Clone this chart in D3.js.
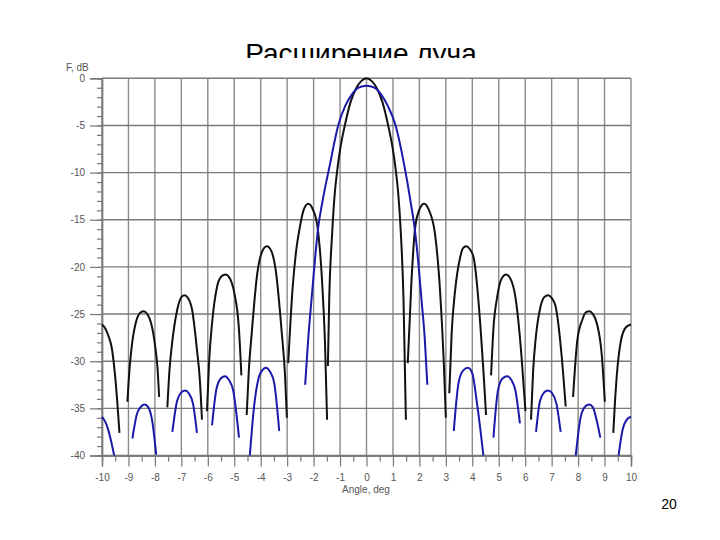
<!DOCTYPE html>
<html>
<head>
<meta charset="utf-8">
<script src="https://cdn.jsdelivr.net/npm/d3@7"></script>
<style>
  body { margin: 0; background: #fff; }
  svg { display: block; font-family: Arial, "Liberation Sans", sans-serif; }
</style>
</head>
<body>
<div id="chart"></div>
<script>
// lobes of the narrow beam (black), [angle deg, F dB]
var blackLobes = [
  [[-10,-26.1],[-9.88,-26.5],[-9.76,-27.3],[-9.63,-28.6],[-9.51,-31.4],[-9.42,-34.4],[-9.34,-37.6]],
  [[-9.04,-34.3],[-8.95,-30.5],[-8.87,-28.3],[-8.71,-25.8],[-8.57,-24.9],[-8.43,-24.7],[-8.29,-25.0],[-8.15,-25.9],[-7.99,-28.4],[-7.9,-30.8],[-7.84,-33.8]],
  [[-7.53,-34.9],[-7.45,-31],[-7.35,-28.1],[-7.16,-24.6],[-7.02,-23.3],[-6.89,-23.0],[-6.75,-23.3],[-6.59,-24.6],[-6.41,-28.8],[-6.3,-32],[-6.22,-36.2]],
  [[-6.03,-35.3],[-5.95,-30],[-5.84,-26.0],[-5.65,-22.1],[-5.48,-21.0],[-5.33,-20.8],[-5.17,-21.2],[-5.01,-22.6],[-4.82,-26.7],[-4.73,-31.5]],
  [[-4.53,-35.7],[-4.45,-31],[-4.35,-27.4],[-4.13,-20.7],[-3.95,-18.4],[-3.77,-17.8],[-3.6,-18.3],[-3.43,-20.4],[-3.2,-27.1],[-3.08,-31.5],[-3.01,-36.0]],
  [[-2.96,-30.2],[-2.8,-22.5],[-2.66,-18.3],[-2.54,-16.1],[-2.37,-13.9],[-2.2,-13.3],[-2.03,-13.9],[-1.85,-15.8],[-1.66,-22.5],[-1.57,-28],[-1.49,-36.2]],
  [[-1.46,-30.5],[-1.41,-23.5],[-1.3,-16.5],[-1.2,-12.2],[-1.1,-9.6],[-1.0,-7.6],[-0.82,-5.0],[-0.6,-2.5],[-0.4,-1.1],[-0.2,-0.3],[0,0],[0.2,-0.3],[0.4,-1.1],[0.6,-2.5],[0.82,-5.0],[1.0,-7.6],[1.1,-9.6],[1.2,-12.2],[1.3,-16.5],[1.4,-23.5],[1.49,-36.2]],
  [[1.56,-30.2],[1.7,-21.5],[1.84,-15.8],[2.02,-13.8],[2.18,-13.3],[2.35,-13.9],[2.59,-16.5],[2.78,-22.5],[2.92,-30],[3.0,-36.0]],
  [[3.13,-33.4],[3.22,-27],[3.35,-22.5],[3.54,-19.0],[3.65,-18.0],[3.77,-17.8],[3.9,-18.1],[4.05,-19.0],[4.3,-26.0],[4.42,-31],[4.52,-35.7]],
  [[4.71,-31.5],[4.8,-26.5],[4.94,-23.2],[5.1,-21.3],[5.28,-20.8],[5.45,-21.3],[5.63,-23.2],[5.86,-29.5],[5.95,-33],[6.01,-35.3]],
  [[6.22,-36.2],[6.3,-31],[6.39,-27.8],[6.58,-24.2],[6.72,-23.2],[6.86,-23.0],[7.0,-23.3],[7.15,-24.2],[7.38,-29.5],[7.53,-34.8]],
  [[7.81,-33.8],[7.97,-27.8],[8.16,-25.6],[8.3,-24.8],[8.42,-24.7],[8.56,-25.0],[8.71,-26.0],[8.9,-29.5],[9.01,-34.3]],
  [[9.33,-37.6],[9.4,-34],[9.46,-31.6],[9.62,-27.8],[9.81,-26.4],[10,-26.1]]
];

// lobes of the widened beam (blue)
var blueLobes = [
  [[-10,-35.9],[-9.9,-36.3],[-9.82,-36.8],[-9.67,-38.3],[-9.54,-40]],
  [[-8.85,-38.2],[-8.68,-35.6],[-8.52,-34.8],[-8.39,-34.6],[-8.25,-34.9],[-8.11,-36.2],[-7.95,-39.9]],
  [[-7.34,-37.5],[-7.16,-34.2],[-7.0,-33.3],[-6.86,-33.1],[-6.72,-33.4],[-6.56,-34.5],[-6.41,-37.6]],
  [[-5.84,-36.8],[-5.67,-32.9],[-5.5,-31.8],[-5.35,-31.6],[-5.2,-32.0],[-5.04,-33.1],[-4.82,-38.1]],
  [[-4.41,-40],[-4.25,-34.8],[-4.06,-31.6],[-3.92,-30.9],[-3.81,-30.7],[-3.65,-31.1],[-3.49,-32.3],[-3.30,-37.4]],
  [[-2.32,-32.5],[-2.2,-27.5],[-2.08,-23.5],[-1.95,-19.3],[-1.83,-15.9],[-1.68,-13.3],[-1.38,-9.1],[-1.07,-5.0],[-0.8,-2.9],[-0.55,-1.7],[-0.3,-1.0],[0,-0.78],[0.3,-1.0],[0.55,-1.7],[0.8,-2.9],[1.1,-5.0],[1.42,-9.1],[1.68,-13.3],[1.82,-15.9],[1.95,-19.3],[2.08,-23.5],[2.2,-27.5],[2.3,-32.5]],
  [[3.30,-37.4],[3.48,-32.3],[3.65,-31.0],[3.84,-30.7],[4.0,-31.3],[4.18,-34.5],[4.42,-40]],
  [[4.80,-38.1],[4.97,-33.1],[5.15,-31.8],[5.32,-31.6],[5.48,-32.0],[5.63,-33.1],[5.80,-36.6]],
  [[6.41,-37.5],[6.56,-34.2],[6.72,-33.3],[6.86,-33.1],[7.02,-33.4],[7.18,-34.5],[7.34,-37.5]],
  [[7.91,-40],[8.10,-35.9],[8.27,-34.8],[8.42,-34.6],[8.56,-34.9],[8.67,-35.9],[8.84,-38.1]],
  [[9.53,-40],[9.68,-37.3],[9.87,-36.1],[10,-35.9]]
];

var xTicks = [-10,-9,-8,-7,-6,-5,-4,-3,-2,-1,0,1,2,3,4,5,6,7,8,9,10];
var xMinorTicks = [-9.5,-8.5,-7.5,-6.5,-5.5,-4.5,-3.5,-2.5,-1.5,-0.5,0.5,1.5,2.5,3.5,4.5,5.5,6.5,7.5,8.5,9.5];
var yTicks = [0,-5,-10,-15,-20,-25,-30,-35,-40];
var yMinorTicks = d3.range(0, -41, -1);

var titleText = "Расширение луча";
var xLabel = "Angle, deg";
var yLabel = "F, dB";
var pageNum = "20";

var W = 720, H = 540;
var svg = d3.select("#chart").append("svg")
  .attr("width", W).attr("height", H);

// title is partly hidden under the picture, as in the slide
svg.append("clipPath").attr("id", "titleclip")
  .append("rect").attr("x", 0).attr("y", 0).attr("width", W).attr("height", 58);
svg.append("text")
  .attr("x", 361).attr("y", 63)
  .attr("text-anchor", "middle")
  .attr("clip-path", "url(#titleclip)")
  .attr("font-size", "28px")
  .attr("fill", "#000")
  .text(titleText);

var x = d3.scaleLinear().domain([-10, 10]).range([102, 631]);
var y = d3.scaleLinear().domain([-40, 0]).range([455.5, 78.3]);

var grid = svg.append("g");
grid.selectAll("line.v").data(xTicks).enter().append("line")
  .attr("class", "v")
  .attr("x1", d => x(d)).attr("x2", d => x(d))
  .attr("y1", y(0)).attr("y2", y(-40))
  .attr("stroke", "#8a8a8a").attr("stroke-width", 1.4);
grid.selectAll("line.h").data(yTicks).enter().append("line")
  .attr("class", "h")
  .attr("x1", x(-10)).attr("x2", x(10))
  .attr("y1", d => y(d)).attr("y2", d => y(d))
  .attr("stroke", "#7a7a7a").attr("stroke-width", 1.4);

// axes (plain hyphen for minus, like the slide)
var fmt = function (d) { return String(d); };
var yAxis = svg.append("g")
  .attr("transform", "translate(" + x(-10) + ",0)")
  .call(d3.axisLeft(y).tickValues(yTicks).tickSize(12).tickPadding(5).tickFormat(fmt));
var yMinor = svg.append("g")
  .attr("transform", "translate(" + x(-10) + ",0)")
  .call(d3.axisLeft(y).tickValues(yMinorTicks).tickSize(5).tickFormat(""));
var xAxis = svg.append("g")
  .attr("transform", "translate(0," + y(-40) + ")")
  .call(d3.axisBottom(x).tickValues(xTicks).tickSize(11).tickPadding(7).tickFormat(fmt));
var xMinor = svg.append("g")
  .attr("transform", "translate(0," + y(-40) + ")")
  .call(d3.axisBottom(x).tickValues(xMinorTicks).tickSize(6).tickFormat(""));

[yAxis, yMinor, xAxis, xMinor].forEach(function (g) {
  g.select(".domain").attr("stroke", "#7a7a7a").attr("stroke-width", 1.4);
  g.selectAll(".tick line").attr("stroke", "#777").attr("stroke-width", 1.2);
  g.selectAll("text").attr("fill", "#555").attr("font-size", "10px")
    .attr("font-family", "Arial, 'Liberation Sans', sans-serif");
});

svg.append("text").attr("x", 66).attr("y", 71)
  .attr("font-size", "10px").attr("fill", "#555").text(yLabel);
svg.append("text").attr("x", 366).attr("y", 493)
  .attr("text-anchor", "middle")
  .attr("font-size", "10px").attr("fill", "#555").text(xLabel);

// curves
var line = d3.line()
  .x(d => x(d[0]))
  .y(d => y(d[1]))
  .curve(d3.curveMonotoneX);

svg.append("g").selectAll("path").data(blackLobes).enter().append("path")
  .attr("d", line)
  .attr("fill", "none").attr("stroke", "#111").attr("stroke-width", 2);

svg.append("g").selectAll("path").data(blueLobes).enter().append("path")
  .attr("d", line)
  .attr("fill", "none").attr("stroke", "#1a1aa8").attr("stroke-width", 2);

svg.append("text").attr("x", 669).attr("y", 508.5)
  .attr("text-anchor", "middle")
  .attr("font-size", "14px").attr("fill", "#000").text(pageNum);
</script>
</body>
</html>
